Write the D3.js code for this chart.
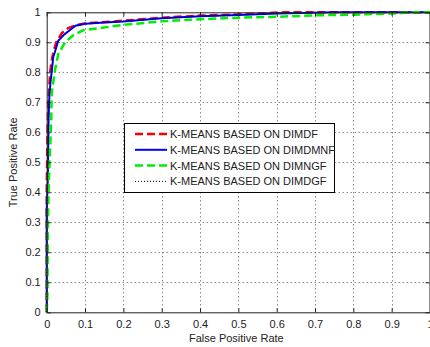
<!DOCTYPE html>
<html>
<head>
<meta charset="utf-8">
<script src="https://cdn.jsdelivr.net/npm/d3@7"></script>
<style>
    body { margin: 0; background: #fff; }
    svg text { font-family: "Liberation Sans", Arial, sans-serif; fill: #222; }
</style>
</head>
<body>
<svg id="chartSVG" width="430" height="347"></svg>
<script>
/* ---------- Data ---------- */
const seriesNames = ["K-MEANS BASED ON DIMDF", "K-MEANS BASED ON DIMDMNF", "K-MEANS BASED ON DIMNGF", "K-MEANS BASED ON DIMDGF"];

const dimdfFpr = [0, 0, 0.002, 0.004, 0.007, 0.009, 0.013, 0.018, 0.025, 0.039, 0.056, 0.078, 0.1, 0.2, 0.3, 0.4, 0.5, 0.62, 1];
const dimdfTpr = [0, 0.4, 0.6, 0.7, 0.76, 0.8, 0.84, 0.87, 0.9, 0.93, 0.947, 0.958, 0.963, 0.972, 0.982, 0.989, 0.993, 1, 1];

const dimdmnfFpr = [0, 0, 0.003, 0.004, 0.005, 0.007, 0.01, 0.013, 0.017, 0.022, 0.03, 0.045, 0.06, 0.075, 0.1, 0.15, 0.2, 0.3, 0.4, 0.5, 0.6, 0.75, 1];
const dimdmnfTpr = [0, 0.34, 0.45, 0.55, 0.65, 0.72, 0.77, 0.8, 0.85, 0.87, 0.905, 0.925, 0.94, 0.955, 0.962, 0.966, 0.969, 0.98, 0.987, 0.991, 0.996, 1, 1];

const dimngfFpr = [0, 0.002, 0.003, 0.006, 0.009, 0.012, 0.013, 0.022, 0.03, 0.048, 0.07, 0.095, 0.2, 0.3, 0.4, 0.5, 0.6, 0.7, 0.8, 0.9, 0.95, 1];
const dimngfTpr = [0, 0.06, 0.3, 0.45, 0.55, 0.65, 0.73, 0.81, 0.86, 0.9, 0.924, 0.94, 0.958, 0.97, 0.977, 0.982, 0.985, 0.99, 0.992, 0.996, 1, 1];

const dimdgfFpr = [0, 0, 0.003, 0.004, 0.005, 0.007, 0.01, 0.013, 0.017, 0.022, 0.03, 0.045, 0.06, 0.075, 0.1, 0.15, 0.2, 0.3, 0.4, 0.5, 0.6, 0.75, 1];
const dimdgfTpr = [0, 0.3, 0.45, 0.55, 0.65, 0.72, 0.77, 0.8, 0.85, 0.87, 0.905, 0.925, 0.94, 0.955, 0.961, 0.966, 0.969, 0.98, 0.987, 0.991, 0.996, 1, 1];

const tickValues = [0, 0.1, 0.2, 0.3, 0.4, 0.5, 0.6, 0.7, 0.8, 0.9, 1];

/* ---------- Layout ---------- */
const plotLeft = 46.7, plotRight = 430, plotTop = 12.3, plotBottom = 312.3;
const tickLen = 4;

var svg = d3.select("#chartSVG");

var xScale = d3.scaleLinear().domain([0, 1]).range([plotLeft, plotRight]);
var yScale = d3.scaleLinear().domain([0, 1]).range([plotBottom, plotTop]);

var fmt = d => d === 0 ? "0" : d === 1 ? "1" : d3.format(".1f")(d);

/* ---------- Grid ---------- */
var grid = svg.append("g").attr("id", "grid");
tickValues.slice(1, -1).forEach(t => {
    grid.append("line")
        .attr("x1", Math.round(xScale(t)) + 0.5).attr("x2", Math.round(xScale(t)) + 0.5)
        .attr("y1", plotTop).attr("y2", plotBottom)
        .attr("stroke", "#555").attr("stroke-dasharray", "1,3");
    grid.append("line")
        .attr("y1", Math.round(yScale(t)) + 0.5).attr("y2", Math.round(yScale(t)) + 0.5)
        .attr("x1", plotLeft).attr("x2", plotRight)
        .attr("stroke", "#555").attr("stroke-dasharray", "1,3");
});

/* ---------- Curves ---------- */
svg.append("defs").append("clipPath").attr("id", "plotClip")
    .append("rect")
    .attr("x", plotLeft - 2).attr("y", plotTop - 2)
    .attr("width", plotRight - plotLeft + 4).attr("height", plotBottom - plotTop + 4);

var line = d3.line().x(d => xScale(d[0])).y(d => yScale(d[1]));
var zipPoints = (xs, ys) => xs.map((x, i) => [x, ys[i]]);

var styles = [
    { color: "#ff0000", width: 2.5, dash: "8,4" },
    { color: "#0000ff", width: 2, dash: null },
    { color: "#00ee00", width: 2.5, dash: "8,4" },
    { color: "#000000", width: 1, dash: "1,2" }
];
var curves = [
    zipPoints(dimdfFpr, dimdfTpr),
    zipPoints(dimdmnfFpr, dimdmnfTpr),
    zipPoints(dimngfFpr, dimngfTpr),
    zipPoints(dimdgfFpr, dimdgfTpr)
];

var curveGroup = svg.append("g").attr("clip-path", "url(#plotClip)");
curves.forEach((pts, i) => {
    curveGroup.append("path")
        .datum(pts)
        .attr("d", line)
        .attr("fill", "none")
        .attr("stroke", styles[i].color)
        .attr("stroke-width", styles[i].width)
        .attr("stroke-dasharray", styles[i].dash);
});

/* ---------- Axes (box with inward ticks) ---------- */
var xAxis = d3.axisBottom(xScale).tickValues(tickValues).tickSizeInner(-tickLen).tickSizeOuter(0).tickPadding(8).tickFormat(fmt);
var yAxis = d3.axisLeft(yScale).tickValues(tickValues).tickSizeInner(-tickLen).tickSizeOuter(0).tickPadding(6).tickFormat(fmt);
var xTop = d3.axisTop(xScale).tickValues(tickValues).tickSizeInner(-tickLen).tickSizeOuter(0).tickFormat("");
var yRight = d3.axisRight(yScale).tickValues(tickValues).tickSizeInner(-tickLen).tickSizeOuter(0).tickFormat("");

[
    [xAxis, "translate(0," + plotBottom + ")"],
    [yAxis, "translate(" + plotLeft + ",0)"],
    [xTop, "translate(0," + plotTop + ")"],
    [yRight, "translate(" + (plotRight - 0.5) + ",0)"]
].forEach(a => {
    var g = svg.append("g").attr("transform", a[1]).call(a[0]);
    g.selectAll("path, line").attr("stroke", "#222");
    g.selectAll("text").attr("font-size", 11).attr("fill", "#222")
        .style("font-family", "Liberation Sans, Arial, sans-serif");
});

/* ---------- Axis Caption ---------- */
svg.append("text")
    .text("False Positive Rate")
    .attr("text-anchor", "middle")
    .attr("font-size", 11)
    .attr("x", (plotLeft + plotRight) / 2 - 2)
    .attr("y", 342);
svg.append("text")
    .text("True Positive Rate")
    .attr("text-anchor", "middle")
    .attr("font-size", 11)
    .attr("transform", "translate(17," + (plotTop + plotBottom) / 2 + ") rotate(-90)");

/* ---------- Legend ---------- */
var legend = svg.append("g").attr("id", "legend");
legend.append("rect")
    .attr("x", 124.5).attr("y", 123.5)
    .attr("width", 210).attr("height", 69)
    .attr("fill", "#fff").attr("stroke", "#000");
seriesNames.forEach((name, i) => {
    var y = 134 + i * 15.8;
    legend.append("line")
        .attr("x1", 135).attr("x2", 167)
        .attr("y1", y).attr("y2", y)
        .attr("stroke", styles[i].color)
        .attr("stroke-width", styles[i].width)
        .attr("stroke-dasharray", styles[i].dash);
    legend.append("text")
        .text(name)
        .attr("x", 170)
        .attr("y", y + 4)
        .attr("font-size", 11);
});
</script>
</body>
</html>
